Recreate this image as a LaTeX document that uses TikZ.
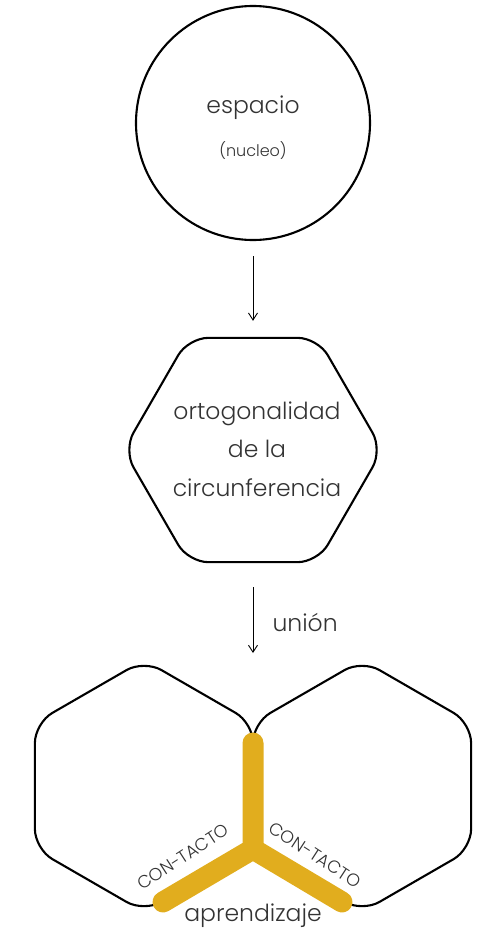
\documentclass[tikz,border=0pt]{standalone}
\usepackage{fontspec}
\setmainfont{Poppins Light}
\usetikzlibrary{shapes.geometric,arrows.meta,positioning}
\definecolor{oro}{HTML}{E1AD1E}
\definecolor{texto}{HTML}{333333}

\begin{document}
\begin{tikzpicture}[
  x=1pt, y=-1pt,
  >={Straight Barb[length=7pt,width=9pt]},
  hexa/.style={regular polygon, regular polygon sides=6, draw, line width=2.1pt, rounded corners=20pt, inner sep=0pt},
  flecha/.style={->, line width=0.9pt, draw=black},
  texto/.style={text=texto, font=\fontsize{23.5}{26}\selectfont},
  chico/.style={text=texto, font=\fontsize{16}{18}\selectfont},
  contacto/.style={text=texto, font=\fontsize{17.5}{19}\selectfont, inner sep=0pt}
]
\useasboundingbox (0,0) rectangle (490,932);

% circulo
\node[circle, draw, line width=2.1pt, minimum size=234pt] (espacio) at (253,123) {};
\node[texto] (tespacio) at (253,108) {espacio};
\node[chico] (nucleo) at (253,151) {(nucleo)};

% hexagono central
\node[hexa, minimum size=259pt] (orto) at (253,450) {};
\node[texto, align=center, font=\fontsize{23.5}{38.5}\selectfont] (torto) at (257,449) {ortogonalidad\\de la\\circunferencia};

\draw[flecha, shorten <=15pt, shorten >=16pt] (espacio) -- (orto);

% hexagonos de abajo
\node[hexa, shape border rotate=30, minimum size=252pt] (hizq) at (144,786) {};
\node[hexa, shape border rotate=30, minimum size=252pt] (hder) at (362,786) {};
\coordinate (union) at (253,653);
\draw[flecha, shorten <=24pt] (orto) -- (union);
\node[texto, anchor=west] (tunion) at (269,622) {unión};

% contacto
\coordinate (cima) at (253,743);
\coordinate (nudo) at (253,849);
\coordinate (izq) at (163,902);
\coordinate (der) at (342,902);
\draw[oro, line width=21pt, line cap=round, line join=round] (cima) -- (nudo) (izq) -- (nudo) -- (der);

\node[contacto, rotate=33] (cizq) at (183,857) {CON-TACTO};
\node[contacto, rotate=-33] (cder) at (315,855) {CON-TACTO};
\node[texto] (aprendizaje) at (253,916) {aprendizaje};
\end{tikzpicture}
\end{document}
